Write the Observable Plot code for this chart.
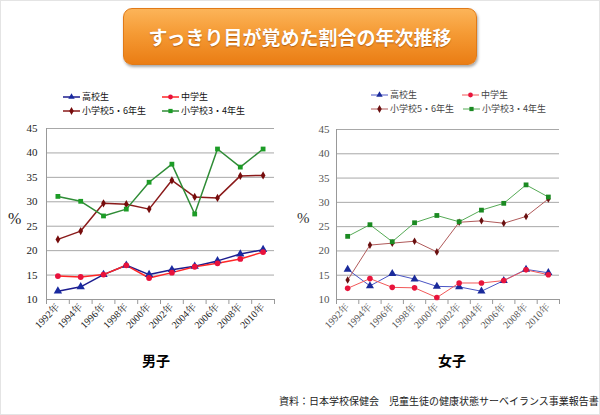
<!DOCTYPE html>
<html><head><meta charset="utf-8">
<script src="https://cdn.jsdelivr.net/npm/d3@7"></script>
<script src="https://cdn.jsdelivr.net/npm/@observablehq/plot@0.6"></script>
<style>
html,body{margin:0;padding:0;background:#fff;}
#page{position:relative;width:598px;height:413px;border:1px solid #e4e4e4;overflow:hidden;font-family:"Noto Sans CJK JP",sans-serif;}
.abs{position:absolute;}
#banner{left:122px;top:7px;width:352px;height:55px;border-radius:9px;
 background:linear-gradient(#fcb459 0%,#f59a34 45%,#ea7d14 100%);border:1px solid #e07a18;
 box-shadow:1px 2px 3px rgba(0,0,0,0.35);color:#fff;font-weight:bold;font-size:19px;
 display:flex;align-items:center;justify-content:center;text-shadow:0 1px 1px rgba(120,50,0,0.5);letter-spacing:0px;}
.leg{font-size:9px;white-space:nowrap;display:flex;align-items:center;}
.leg svg{margin-right:2px;}
.pct{font-family:"Liberation Serif",serif;}
.panelname{font-weight:bold;font-size:14px;}
#caption{font-size:10px;color:#222;}
svg.chart text{font-family:"Liberation Serif","Times New Roman","Noto Serif CJK JP","Noto Sans CJK JP",serif !important;}
</style></head>
<body><div id="page">
<div id="banner" class="abs">すっきり目が覚めた割合の年次推移</div>
</div>
<script>
// ---- data ----
const years = [1992, 1994, 1996, 1998, 2000, 2002, 2004, 2006, 2008, 2010];
const seriesNames = ["高校生", "中学生", "小学校5・6年生", "小学校3・4年生"];
const boysHigh = [11.7, 12.6, 15.1, 17.0, 15.1, 16.1, 16.8, 17.9, 19.3, 20.2];
const boysMiddle = [14.8, 14.6, 15.1, 17.0, 14.4, 15.5, 16.7, 17.4, 18.3, 19.7];
const boysElem56 = [22.3, 24.0, 29.7, 29.5, 28.5, 34.4, 31.0, 30.8, 35.3, 35.4];
const boysElem34 = [31.1, 30.1, 27.1, 28.5, 34.0, 37.7, 27.5, 40.8, 37.1, 40.8];
const girlsHigh = [16.2, 12.8, 15.3, 14.2, 12.7, 12.6, 11.7, 13.9, 16.2, 15.5];
const girlsMiddle = [12.3, 14.3, 12.5, 12.4, 10.4, 13.4, 13.4, 13.9, 16.1, 15.1];
const girlsElem56 = [14.0, 21.2, 21.6, 22.0, 19.8, 25.9, 26.2, 25.7, 27.1, 30.7];
const girlsElem34 = [23.0, 25.4, 21.9, 25.8, 27.3, 26.0, 28.4, 29.8, 33.6, 31.1];
const yTicks = [10, 15, 20, 25, 30, 35, 40, 45];
const xDomain = [1991, 2011];
const boundaries = [1991, 1993, 1995, 1997, 1999, 2001, 2003, 2005, 2007, 2009, 2011];
const panelNames = ["男子", "女子"];
const captionText = "資料：日本学校保健会　児童生徒の健康状態サーベイランス事業報告書";

const symbols = ["triangle", "circle", "diamond", "square"];
const styles = {
  boys: {
    line: ["#1c1c8e", "#ff2626", "#8a1a1a", "#2f8c36"],
    mark: ["#1a2aa0", "#e8123c", "#760c0c", "#1c9c26"],
    width: 1.5, r: [3.1, 2.9, 2.5, 2.7], text: "#222"
  },
  girls: {
    line: ["#4a55c4", "#f25858", "#b05a5a", "#55aa55"],
    mark: ["#1a2a9a", "#e8143c", "#6a1010", "#1b8a22"],
    width: 1.0, r: [3.0, 2.8, 2.3, 2.7], text: "#555"
  }
};
const serif = "'Liberation Serif', 'Times New Roman', 'Noto Serif CJK JP', 'Noto Sans CJK JP', serif";

function rows(arrs) {
  const out = [];
  arrs.forEach((vals, i) => years.forEach((yr, j) => out.push({series: seriesNames[i], idx: i, year: yr, value: vals[j]})));
  return out;
}

function panel(data, st, opts) {
  const marks = [
    Plot.gridY(yTicks, {stroke: "#a8a8a8", strokeOpacity: 1}),
    Plot.ruleX([xDomain[0]], {stroke: "#999"}),
    Plot.ruleY([yTicks[0]], {stroke: "#999"}),
    Plot.axisX(boundaries, {tickSize: 5, tickFormat: () => "", stroke: "#999", label: null}),
    Plot.axisX(years, {tickSize: 0, tickRotate: -45, tickPadding: 6, tickFormat: d => d + "年",
      fontSize: 10, fill: st.text, label: null}),
    Plot.axisY(yTicks, {tickSize: 0, tickPadding: opts.pad, fontSize: 11, fill: st.text, label: null})
  ];
  seriesNames.forEach((s, i) => {
    const d = data.filter(r => r.idx === i);
    marks.push(Plot.line(d, {x: "year", y: "value", stroke: st.line[i], strokeWidth: st.width}));
  });
  seriesNames.forEach((s, i) => {
    const d = data.filter(r => r.idx === i);
    marks.push(Plot.dot(d, {x: "year", y: "value", symbol: () => symbols[i], fill: st.mark[i], r: st.r[i], stroke: "none"}));
  });
  const svg = Plot.plot({
    width: 300, height: 235,
    marginLeft: opts.ml, marginRight: opts.mr, marginTop: opts.mt, marginBottom: 52,
    x: {type: "linear", domain: xDomain, axis: null, label: null},
    y: {domain: [yTicks[0], yTicks[yTicks.length - 1]], axis: null, label: null},
    symbol: {type: "identity"},
    style: {background: "transparent", overflow: "visible", fontFamily: serif},
    marks
  });
  svg.classList.add("chart");
  return svg;
}

const page = document.getElementById("page");
function place(el, left, top) { el.classList.add("abs"); el.style.left = left + "px"; el.style.top = top + "px"; page.appendChild(el); return el; }

const left = panel(rows([boysHigh, boysMiddle, boysElem56, boysElem34]), styles.boys, {ml: 45, mr: 27, mt: 12, pad: 9});
place(left, 0, 115);
const right = panel(rows([girlsHigh, girlsMiddle, girlsElem56, girlsElem34]), styles.girls, {ml: 35, mr: 42, mt: 13, pad: 7});
place(right, 300, 115);

// legends
function legendItem(i, st, color) {
  const div = document.createElement("div");
  div.className = "leg";
  div.style.color = color;
  const svg = d3.create("svg").attr("width", 17).attr("height", 8);
  svg.append("line").attr("x1", 0).attr("x2", 17).attr("y1", 4).attr("y2", 4).attr("stroke", st.line[i]).attr("stroke-width", st.width);
  const symMap = [d3.symbolTriangle, d3.symbolCircle, d3.symbolDiamond, d3.symbolSquare];
  svg.append("path").attr("transform", "translate(8.5,4)").attr("d", d3.symbol(symMap[i], 18)()).attr("fill", st.mark[i]);
  div.appendChild(svg.node());
  div.appendChild(document.createTextNode(seriesNames[i]));
  return div;
}
const legPos = {
  boys: [[62, 89], [161, 89], [62, 103], [161, 103]],
  girls: [[370, 87], [461, 87], [370, 101], [462, 101]]
};
seriesNames.forEach((s, i) => {
  place(legendItem(i, styles.boys, "#111"), legPos.boys[i][0], legPos.boys[i][1]);
  place(legendItem(i, styles.girls, "#444"), legPos.girls[i][0], legPos.girls[i][1]);
});

// % labels
const p1 = document.createElement("div"); p1.className = "pct"; p1.textContent = "%"; p1.style.fontSize = "16px"; p1.style.color = "#222";
place(p1, 7, 209);
const p2 = document.createElement("div"); p2.className = "pct"; p2.textContent = "%"; p2.style.fontSize = "15px"; p2.style.color = "#333";
place(p2, 296, 209);

// panel names
const n1 = document.createElement("div"); n1.className = "panelname"; n1.textContent = panelNames[0];
place(n1, 141, 349);
const n2 = document.createElement("div"); n2.className = "panelname"; n2.textContent = panelNames[1];
place(n2, 437, 349);

const cap = document.createElement("div"); cap.id = "caption"; cap.textContent = captionText;
place(cap, 278, 392);
</script>
</body></html>
